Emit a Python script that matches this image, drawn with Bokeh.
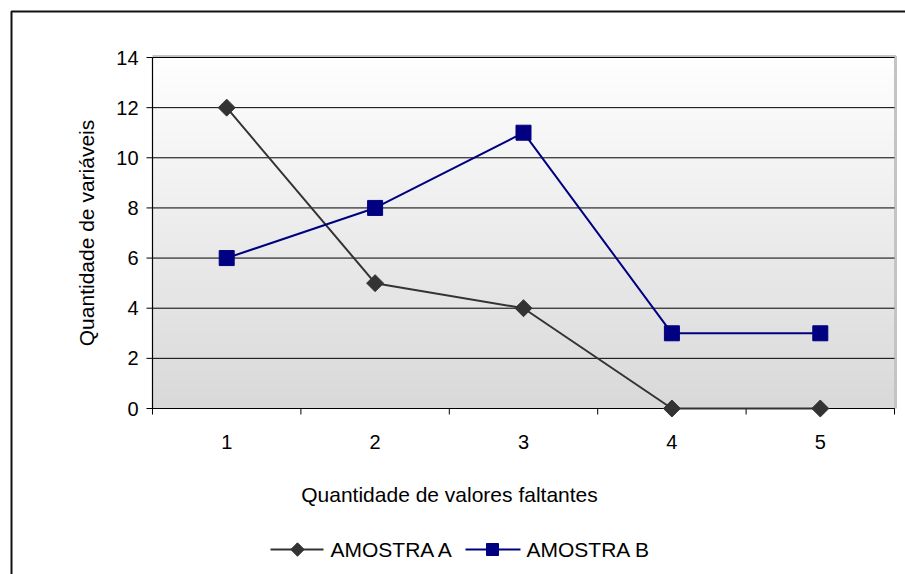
import numpy as np
from bokeh.plotting import figure
from bokeh.models import Range1d
from bokeh.core.properties import value
from bokeh.embed import file_html
from bokeh.resources import INLINE

# ---- data ----
categories = [1, 2, 3, 4, 5]
category_labels = ["1", "2", "3", "4", "5"]
amostra_a = [12, 5, 4, 0, 0]
amostra_b = [6, 8, 11, 3, 3]
y_ticks = [0, 2, 4, 6, 8, 10, 12, 14]
y_tick_labels = [str(v) for v in y_ticks]
series_names = ["AMOSTRA A", "AMOSTRA B"]
x_title = "Quantidade de valores faltantes"
y_title = "Quantidade de variáveis"

# ---- layout constants (pixels) ----
W, H = 905, 574
PL, PR, PT, PB = 152, 894, 57, 408          # plot area in canvas pixels
XMIN, XMAX = 0.5, 5.5
YMIN, YMAX = 0, 14
sx = (PR - PL) / (XMAX - XMIN)               # px per x unit
sy = (PB - PT) / (YMAX - YMIN)               # px per y unit


def dx(px):
    return XMIN + (px - PL) / sx


def dy(py):
    return YMIN + (PB - py) / sy


FONT = value("Liberation Sans")
FS = value("20px")
FS_T = value("21px")

p = figure(width=W, height=H, output_backend="svg", toolbar_location=None,
           title=None, x_axis_location=None, y_axis_location=None,
           x_range=Range1d(dx(0), dx(W)), y_range=Range1d(dy(H), dy(0)),
           min_border=0)
p.background_fill_color = "white"
p.border_fill_color = "white"
p.outline_line_color = None
p.grid.visible = False

# gradient background of plot area
n = 256
t = np.linspace(0, 1, n)  # 0 bottom -> 1 top
bottom_c = np.array([217, 217, 217])
top_c = np.array([255, 255, 255])
cols = (bottom_c[None, :] + (top_c - bottom_c)[None, :] * t[:, None]).astype(np.uint8)
img = np.zeros((n, 1), dtype=np.uint32)
view = img.view(dtype=np.uint8).reshape((n, 1, 4))
view[:, 0, 0:3] = cols
view[:, 0, 3] = 255
p.image_rgba(image=[img], x=XMIN, y=YMIN, dw=XMAX - XMIN, dh=YMAX - YMIN)

# shadow border of plot area (top + right)
p.line([XMIN, XMAX + 1 / sx, XMAX + 1 / sx], [YMAX + 1 / sy, YMAX + 1 / sy, YMIN],
       line_color="#c4c4c4", line_width=3)

# horizontal gridlines
p.segment(x0=[XMIN] * len(y_ticks), x1=[XMAX] * len(y_ticks), y0=y_ticks, y1=y_ticks,
          line_color="#000000", line_width=1)

# y axis
p.segment(x0=[XMIN], x1=[XMIN], y0=[YMIN], y1=[YMAX], line_color="#000000", line_width=1.2)
p.segment(x0=[XMIN - 6 / sx] * len(y_ticks), x1=[XMIN] * len(y_ticks), y0=y_ticks, y1=y_ticks,
          line_color="#000000", line_width=1)
p.text(x=[XMIN - 14 / sx] * len(y_ticks), y=y_ticks, text=y_tick_labels,
       text_font=FONT, text_font_size=FS, text_color="#000000",
       text_align="right", text_baseline="middle")
p.text(x=[dx(86)], y=[(YMIN + YMAX) / 2], text=[y_title], angle=np.pi / 2,
       text_font=FONT, text_font_size=FS_T, text_color="#000000",
       text_align="center", text_baseline="middle")

# x axis
bounds = [c - 0.5 for c in categories] + [categories[-1] + 0.5]
p.segment(x0=[XMIN], x1=[XMAX], y0=[YMIN], y1=[YMIN], line_color="#000000", line_width=1.2)
p.segment(x0=bounds, x1=bounds, y0=[YMIN] * len(bounds), y1=[YMIN - 6 / sy] * len(bounds),
          line_color="#000000", line_width=1)
p.text(x=categories, y=[dy(441)] * len(categories), text=category_labels,
       text_font=FONT, text_font_size=FS, text_color="#000000",
       text_align="center", text_baseline="middle")
p.text(x=[dx(449)], y=[dy(494)], text=[x_title],
       text_font=FONT, text_font_size=FS_T, text_color="#000000",
       text_align="center", text_baseline="middle")

# series
COL_A, COL_B = "#333333", "#000080"
p.line(categories, amostra_a, line_color=COL_A, line_width=2)
p.scatter(categories, amostra_a, marker="square", angle=np.pi / 4, size=12,
          fill_color=COL_A, line_color=COL_A)
p.line(categories, amostra_b, line_color=COL_B, line_width=2)
p.scatter(categories, amostra_b, marker="square", size=15,
          fill_color=COL_B, line_color=COL_B)

# legend (drawn manually below the chart)
ly = dy(549)
p.segment(x0=[dx(270), dx(465)], x1=[dx(323), dx(520)], y0=[ly, ly], y1=[ly, ly],
          line_color=[COL_A, COL_B], line_width=2)
p.scatter([dx(297)], [ly], marker="square", angle=np.pi / 4, size=9.5,
          fill_color=COL_A, line_color=COL_A)
p.scatter([dx(492)], [ly], marker="square", size=12,
          fill_color=COL_B, line_color=COL_B)
p.text(x=[dx(330), dx(526)], y=[ly, ly], text=series_names,
       text_font=FONT, text_font_size=FS_T, text_color="#000000",
       text_align="left", text_baseline="middle")

# chart area border (left and top edges visible; rest is cut off)
p.line([dx(11), dx(11), dx(W + 5)], [dy(H + 5), dy(11), dy(11)],
       line_color="#111111", line_width=2)

open("out.html", "w").write(file_html(p, INLINE))
